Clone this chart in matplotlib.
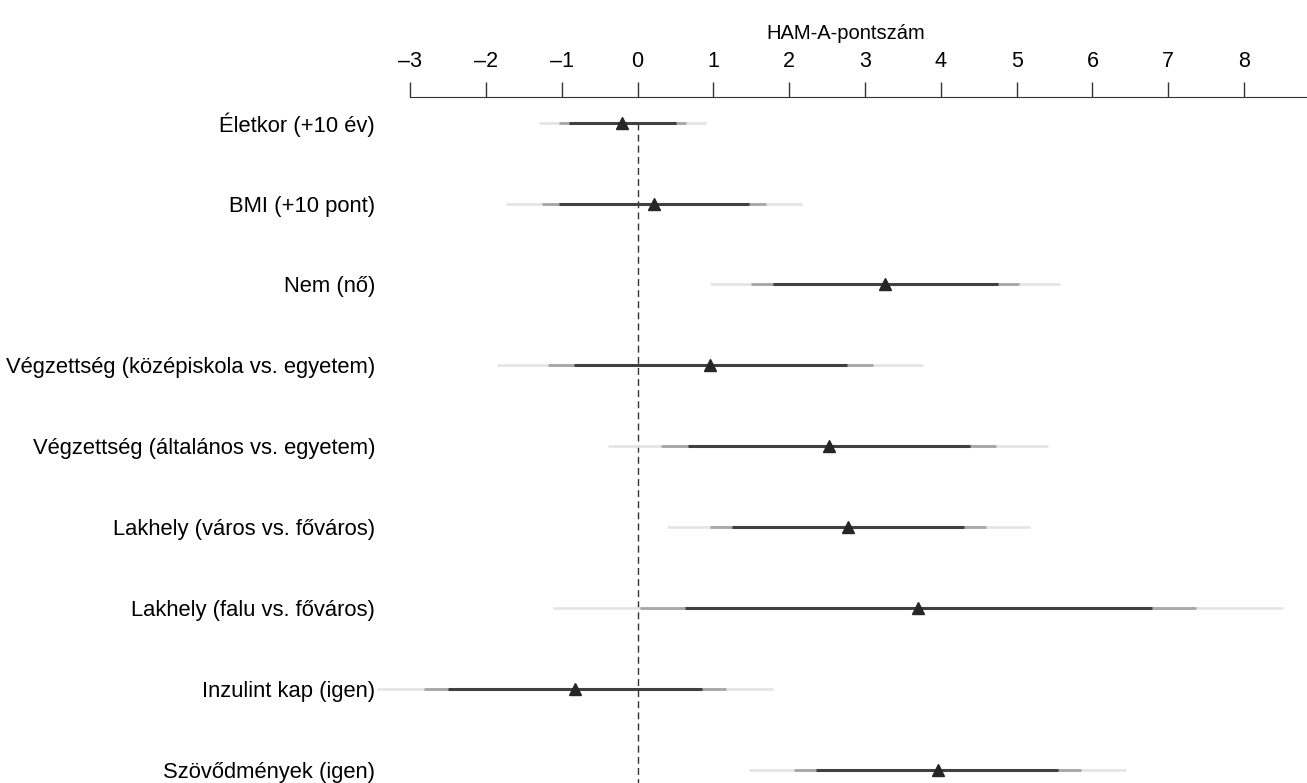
import numpy as np
import matplotlib.pyplot as plt

plt.rcParams['font.family'] = ['Liberation Sans', 'DejaVu Sans']

labels = ["Életkor (+10 év)", "BMI (+10 pont)", "Nem (nő)",
          "Végzettség (középiskola vs. egyetem)",
          "Végzettség (általános vs. egyetem)",
          "Lakhely (város vs. főváros)", "Lakhely (falu vs. főváros)",
          "Inzulint kap (igen)", "Szövődmények (igen)"]
est = [-0.20, 0.22, 3.26, 0.96, 2.52, 2.78, 3.70, -0.82, 3.96]
# three nested intervals: outer (light), middle, inner (dark)
outer_lo = [-1.30, -1.73, 0.95, -1.85, -0.39, 0.39, -1.12, -3.44, 1.47]
outer_hi = [0.90, 2.17, 5.57, 3.76, 5.42, 5.17, 8.51, 1.79, 6.44]
mid_lo = [-1.03, -1.26, 1.50, -1.18, 0.31, 0.96, 0.03, -2.82, 2.06]
mid_hi = [0.64, 1.70, 5.03, 3.10, 4.73, 4.59, 7.37, 1.16, 5.85]
in_lo = [-0.90, -1.03, 1.78, -0.84, 0.66, 1.24, 0.62, -2.50, 2.36]
in_hi = [0.51, 1.47, 4.75, 2.76, 4.39, 4.30, 6.78, 0.85, 5.54]
ticks = list(range(-3, 9))

fig = plt.figure(figsize=(13.07, 7.83), dpi=100)
ax = fig.add_axes([0.2848, 0.0, 0.7152, 0.876])

y = np.arange(len(labels))
ax.vlines(0, 0, len(labels) + 1, colors='#333333', linestyles=(0, (5, 3)), linewidth=1, zorder=1)
ax.hlines(y, outer_lo, outer_hi, colors='#e3e3e3', linewidth=1.8, zorder=2)
ax.hlines(y, mid_lo, mid_hi, colors='#a6a6a6', linewidth=2.0, zorder=3)
ax.hlines(y, in_lo, in_hi, colors='#404040', linewidth=2.2, zorder=4)
ax.plot(est, y, '^', color='#262626', markersize=8.5, linestyle='None', zorder=5)

ax.set_xlim(-3.5, 8.83)
ax.set_ylim(8.16, -0.315)
ax.set_yticks(y)
ax.set_yticklabels(labels, fontsize=15.8)
ax.tick_params(axis='y', length=0, pad=-2)

ax.xaxis.tick_top()
ax.xaxis.set_label_position('top')
ax.set_xticks(ticks)
ax.set_xticklabels([str(t).replace('-', '\u2013') for t in ticks], fontsize=15.5)
ax.tick_params(axis='x', direction='out', length=11, width=1, color='#333333', pad=7)
ax.set_xlabel("HAM-A-pontszám", fontsize=14.5, labelpad=9)
ax.xaxis.label.set_x(0.507)

for s in ['left', 'right', 'bottom']:
    ax.spines[s].set_visible(False)
ax.spines['top'].set_bounds(-3, 8.83)
ax.spines['top'].set_color('#333333')

fig.savefig('out.png', dpi=100)
